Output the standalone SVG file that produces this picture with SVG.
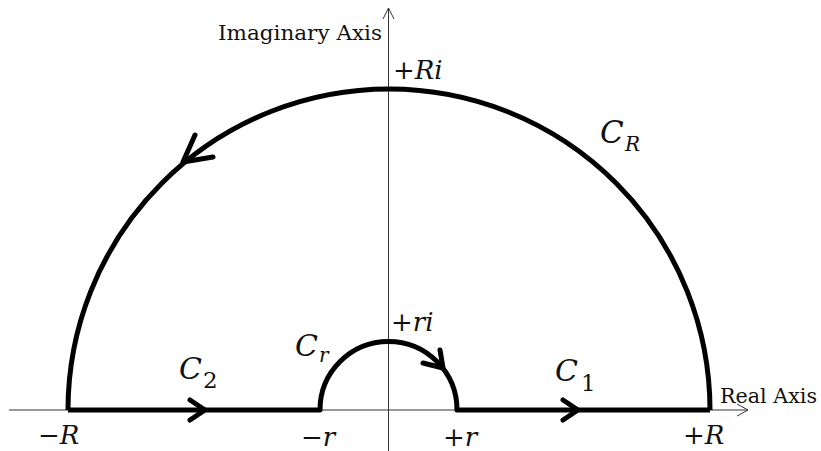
<svg xmlns="http://www.w3.org/2000/svg" width="821" height="451" viewBox="0 0 821 451">
<style>
.axis{fill:none;stroke:#333;stroke-width:1}
.curve{fill:none;stroke:#000;stroke-width:5;stroke-linejoin:round}
.chev{fill:none;stroke:#000;stroke-width:5;stroke-linecap:round;stroke-linejoin:round}
.lbl{font-family:"DejaVu Serif","Liberation Serif",serif;fill:#111}
.math{font-family:"DejaVu Serif","Liberation Serif",serif;font-style:italic;fill:#111}
.op{font-family:"DejaVu Serif","Liberation Serif",serif;fill:#111}
</style>
<rect width="821" height="451" fill="#fff"/>
<g id="axes">
<line class="axis" x1="9" y1="410" x2="748" y2="410"/>
<polyline class="axis" points="737,404 748,410 737,416"/>
<line class="axis" x1="388.5" y1="8" x2="388.5" y2="451"/>
<polyline class="axis" points="383,19 388.5,8 394,19"/>
<text class="lbl" x="218" y="40" font-size="20" textLength="164" lengthAdjust="spacingAndGlyphs">Imaginary Axis</text>
<text class="lbl" x="720" y="403" font-size="20" textLength="97" lengthAdjust="spacingAndGlyphs">Real Axis</text>
</g>
<g id="connectors">
<path class="curve" d="M68 410 A321 321 0 0 1 710 410"/>
<path class="curve" d="M68 410 L320 410 A68.5 68.5 0 0 1 457 410 L710 410"/>
<polyline class="chev" points="195,135 183,162 213,157"/>
<polyline class="chev" points="440,350 443,368 423,363"/>
<polyline class="chev" points="190,400 205,410 190,420"/>
<polyline class="chev" points="563,400 578,410 563,420"/>
</g>
<g id="label-CR"><text class="math" x="600" y="143" font-size="31">C</text><text class="math" x="625" y="151" font-size="20">R</text></g>
<g id="label-C2"><text class="math" x="179" y="379" font-size="30">C</text><text class="op" x="203" y="388" font-size="23">2</text></g>
<g id="label-C1"><text class="math" x="555" y="381" font-size="30">C</text><text class="op" x="581" y="391" font-size="23">1</text></g>
<g id="label-Cr"><text class="math" x="295" y="356" font-size="30">C</text><text class="math" x="319" y="362" font-size="20">r</text></g>
<g id="label-Ri"><text class="op" x="393" y="79" font-size="26">+<tspan font-style="italic">Ri</tspan></text></g>
<g id="label-ri"><text class="op" x="391" y="331" font-size="26">+<tspan font-style="italic">ri</tspan></text></g>
<g id="label-mR"><text class="op" x="38" y="444" font-size="26">−<tspan font-style="italic">R</tspan></text></g>
<g id="label-pR"><text class="op" x="683" y="444" font-size="26">+<tspan font-style="italic">R</tspan></text></g>
<g id="label-mr"><text class="op" x="301" y="446" font-size="26">−<tspan font-style="italic">r</tspan></text></g>
<g id="label-pr"><text class="op" x="443" y="446" font-size="26">+<tspan font-style="italic">r</tspan></text></g>
</svg>
